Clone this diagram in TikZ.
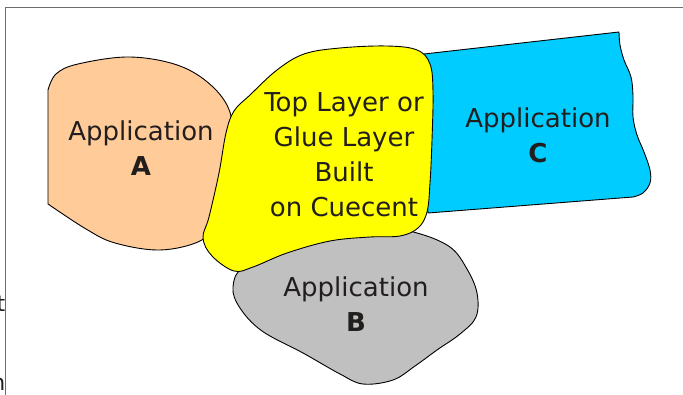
\documentclass[tikz,border=0pt]{standalone}
\usepackage{fontspec}
\setmainfont{DejaVu Sans}
\begin{document}
\begin{tikzpicture}[x=1pt,y=-1pt,
  blob/.style={draw=black,line width=0.9pt,line join=round},
  lbl/.style={font=\fontsize{26}{35}\selectfont,text=txt,align=center,inner sep=0pt,anchor=base},
  cut/.style={font=\fontsize{22}{26}\selectfont,text=txt,inner sep=0pt,anchor=base east},
  frameline/.style={draw=framegray,line width=1.6pt}]
\definecolor{peach}{RGB}{255,204,153}
\definecolor{cyanc}{RGB}{0,204,255}
\definecolor{grayb}{RGB}{192,192,192}
\definecolor{glue}{RGB}{255,255,0}
\definecolor{txt}{RGB}{34,30,30}
\definecolor{framegray}{RGB}{112,108,104}
\useasboundingbox (0,0) rectangle (683,395);
\clip (0,0) rectangle (683,395);
% frame
\draw[frameline] (5.5,400) -- (5.5,7.5) -- (690,7.5);
\node[cut] (tcut) at (5.5,312) {t};
\node[cut] (ncut) at (5.5,391) {n};
% Application A
\draw[blob,fill=peach] (48,203) -- plot[smooth,tension=0.6] coordinates {(48,90) (56,74) (78,64) (130,57) (180,66) (214,88) (231,116) (228,150) (221,185) (216,222) (200,241) (160,250) (115,243) (86,229) (48,204)} -- cycle;
% Application C
\draw[blob,fill=cyanc] (424,54) -- (619,32) -- plot[smooth,tension=0.6] coordinates {(619,32) (620,45) (624,60) (631,77) (633,96) (633,117) (637,135) (644,152) (650,170) (650,183) (643,193) (633,197)} -- (428,213) -- (420,130) -- cycle;
% Application B
\draw[blob,fill=grayb] plot[smooth cycle,tension=0.6] coordinates {(417,233) (450,247) (467,269) (477,293) (476,317) (460,334) (437,350) (415,366) (393,380) (363,384) (340,374) (303,353) (262,331) (240,308) (233,287) (245,266) (300,240) (380,228)};
% Glue layer
\draw[blob,fill=glue] plot[smooth cycle,tension=0.6] coordinates {(250,95) (277,70) (304,54) (340,48) (387,46) (417,50) (430,64) (433,92) (432,140) (430,183) (427,212) (418,228) (400,236) (370,237) (330,241) (287,253) (253,267) (234,271) (212,256) (203,238) (209,217) (219,173) (226,133) (234,111)};
% labels (base anchor = baseline of the last line)
\node[lbl] (la) at (141,176) {Application\\\textbf{A}};
\node[lbl] (lc) at (538,163) {Application\\\textbf{C}};
\node[lbl] (lb) at (356,332) {Application\\\textbf{B}};
\node[lbl] (ly) at (344,217) {Top Layer or\\Glue Layer\\Built\\on Cuecent};
\end{tikzpicture}
\end{document}
